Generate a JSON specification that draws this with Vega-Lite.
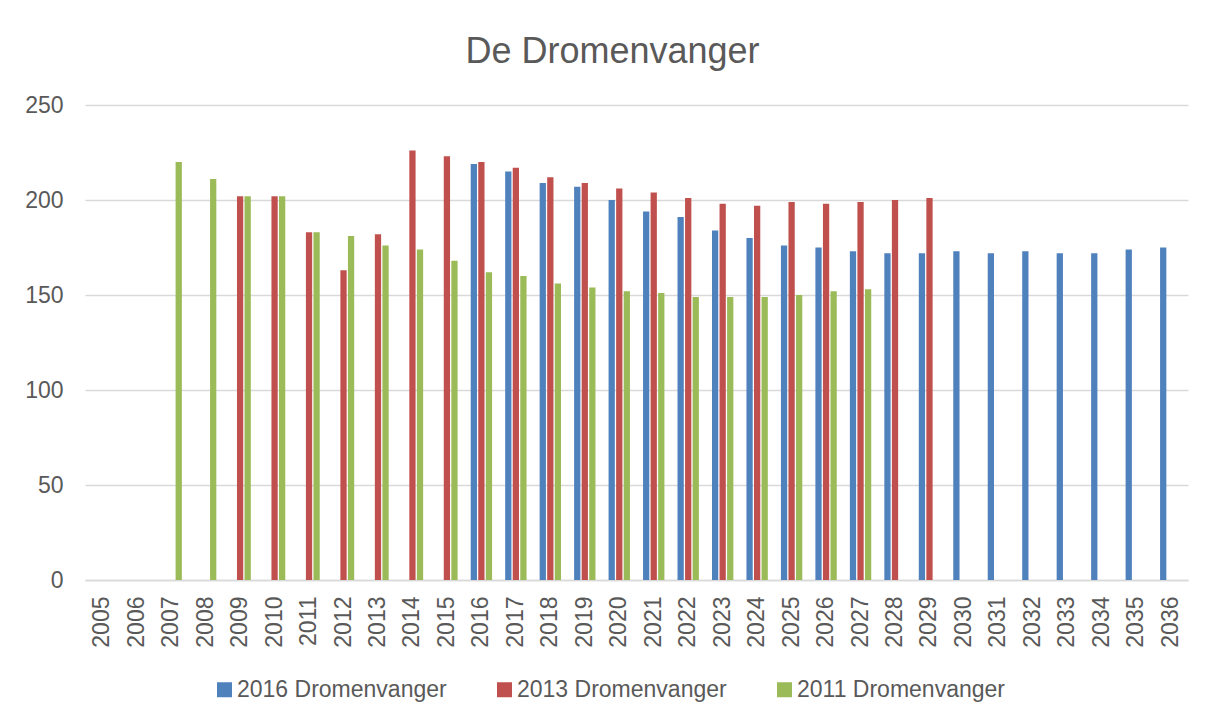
{
  "$schema": "https://vega.github.io/schema/vega-lite/v6.json",
  "width": 1103,
  "height": 475,
  "autosize": {"type": "none"},
  "padding": {"left": 85, "top": 105, "right": 25, "bottom": 137},
  "background": "white",
  "title": {
    "text": "De Dromenvanger",
    "anchor": "middle",
    "dx": -24,
    "offset": 23,
    "fontSize": 36,
    "fontWeight": "normal",
    "color": "#595959",
    "font": "Liberation Sans"
  },
  "config": {
    "font": "Liberation Sans",
    "view": {"stroke": null}
  },
  "data": {
    "values": [
      {"year": "2007", "series": "2011 Dromenvanger", "value": 220},
      {"year": "2008", "series": "2011 Dromenvanger", "value": 211},
      {"year": "2009", "series": "2011 Dromenvanger", "value": 202},
      {"year": "2010", "series": "2011 Dromenvanger", "value": 202},
      {"year": "2011", "series": "2011 Dromenvanger", "value": 183},
      {"year": "2012", "series": "2011 Dromenvanger", "value": 181},
      {"year": "2013", "series": "2011 Dromenvanger", "value": 176},
      {"year": "2014", "series": "2011 Dromenvanger", "value": 174},
      {"year": "2015", "series": "2011 Dromenvanger", "value": 168},
      {"year": "2016", "series": "2011 Dromenvanger", "value": 162},
      {"year": "2017", "series": "2011 Dromenvanger", "value": 160},
      {"year": "2018", "series": "2011 Dromenvanger", "value": 156},
      {"year": "2019", "series": "2011 Dromenvanger", "value": 154},
      {"year": "2020", "series": "2011 Dromenvanger", "value": 152},
      {"year": "2021", "series": "2011 Dromenvanger", "value": 151},
      {"year": "2022", "series": "2011 Dromenvanger", "value": 149},
      {"year": "2023", "series": "2011 Dromenvanger", "value": 149},
      {"year": "2024", "series": "2011 Dromenvanger", "value": 149},
      {"year": "2025", "series": "2011 Dromenvanger", "value": 150},
      {"year": "2026", "series": "2011 Dromenvanger", "value": 152},
      {"year": "2027", "series": "2011 Dromenvanger", "value": 153},
      {"year": "2009", "series": "2013 Dromenvanger", "value": 202},
      {"year": "2010", "series": "2013 Dromenvanger", "value": 202},
      {"year": "2011", "series": "2013 Dromenvanger", "value": 183},
      {"year": "2012", "series": "2013 Dromenvanger", "value": 163},
      {"year": "2013", "series": "2013 Dromenvanger", "value": 182},
      {"year": "2014", "series": "2013 Dromenvanger", "value": 226},
      {"year": "2015", "series": "2013 Dromenvanger", "value": 223},
      {"year": "2016", "series": "2013 Dromenvanger", "value": 220},
      {"year": "2017", "series": "2013 Dromenvanger", "value": 217},
      {"year": "2018", "series": "2013 Dromenvanger", "value": 212},
      {"year": "2019", "series": "2013 Dromenvanger", "value": 209},
      {"year": "2020", "series": "2013 Dromenvanger", "value": 206},
      {"year": "2021", "series": "2013 Dromenvanger", "value": 204},
      {"year": "2022", "series": "2013 Dromenvanger", "value": 201},
      {"year": "2023", "series": "2013 Dromenvanger", "value": 198},
      {"year": "2024", "series": "2013 Dromenvanger", "value": 197},
      {"year": "2025", "series": "2013 Dromenvanger", "value": 199},
      {"year": "2026", "series": "2013 Dromenvanger", "value": 198},
      {"year": "2027", "series": "2013 Dromenvanger", "value": 199},
      {"year": "2028", "series": "2013 Dromenvanger", "value": 200},
      {"year": "2029", "series": "2013 Dromenvanger", "value": 201},
      {"year": "2016", "series": "2016 Dromenvanger", "value": 219},
      {"year": "2017", "series": "2016 Dromenvanger", "value": 215},
      {"year": "2018", "series": "2016 Dromenvanger", "value": 209},
      {"year": "2019", "series": "2016 Dromenvanger", "value": 207},
      {"year": "2020", "series": "2016 Dromenvanger", "value": 200},
      {"year": "2021", "series": "2016 Dromenvanger", "value": 194},
      {"year": "2022", "series": "2016 Dromenvanger", "value": 191},
      {"year": "2023", "series": "2016 Dromenvanger", "value": 184},
      {"year": "2024", "series": "2016 Dromenvanger", "value": 180},
      {"year": "2025", "series": "2016 Dromenvanger", "value": 176},
      {"year": "2026", "series": "2016 Dromenvanger", "value": 175},
      {"year": "2027", "series": "2016 Dromenvanger", "value": 173},
      {"year": "2028", "series": "2016 Dromenvanger", "value": 172},
      {"year": "2029", "series": "2016 Dromenvanger", "value": 172},
      {"year": "2030", "series": "2016 Dromenvanger", "value": 173},
      {"year": "2031", "series": "2016 Dromenvanger", "value": 172},
      {"year": "2032", "series": "2016 Dromenvanger", "value": 173},
      {"year": "2033", "series": "2016 Dromenvanger", "value": 172},
      {"year": "2034", "series": "2016 Dromenvanger", "value": 172},
      {"year": "2035", "series": "2016 Dromenvanger", "value": 174},
      {"year": "2036", "series": "2016 Dromenvanger", "value": 175}
    ]
  },
  "mark": {"type": "bar"},
  "encoding": {
    "x": {
      "field": "year",
      "type": "nominal",
      "scale": {
        "domain": ["2005","2006","2007","2008","2009","2010","2011","2012","2013","2014","2015","2016","2017","2018","2019","2020","2021","2022","2023","2024","2025","2026","2027","2028","2029","2030","2031","2032","2033","2034","2035","2036"],
        "paddingInner": 0.38,
        "paddingOuter": 0.19
      },
      "axis": {
        "title": null,
        "labelAngle": -90,
        "labelAlign": "right",
        "labelBaseline": "middle",
        "labelFontSize": 23,
        "labelColor": "#595959",
        "labelPadding": 16,
        "ticks": false,
        "domainColor": "#d9d9d9",
        "domainWidth": 1.5,
        "grid": false
      }
    },
    "xOffset": {
      "field": "series",
      "type": "nominal",
      "scale": {
        "domain": ["2016 Dromenvanger", "2013 Dromenvanger", "2011 Dromenvanger"],
        "paddingInner": 0.17
      }
    },
    "y": {
      "field": "value",
      "type": "quantitative",
      "scale": {"domain": [0, 250], "nice": false},
      "axis": {
        "title": null,
        "values": [0, 50, 100, 150, 200, 250],
        "labelFontSize": 23,
        "labelColor": "#595959",
        "labelPadding": 22,
        "ticks": false,
        "domain": false,
        "gridColor": "#d9d9d9",
        "gridWidth": 1.5
      }
    },
    "color": {
      "field": "series",
      "type": "nominal",
      "scale": {
        "domain": ["2016 Dromenvanger", "2013 Dromenvanger", "2011 Dromenvanger"],
        "range": ["#4f81bd", "#c0504d", "#9bbb59"]
      },
      "legend": {
        "title": null,
        "orient": "none",
        "direction": "horizontal",
        "legendX": 128,
        "legendY": 573,
        "padding": 0,
        "symbolType": "square",
        "symbolSize": 225,
        "symbolStrokeWidth": 0,
        "labelFontSize": 23,
        "labelColor": "#595959",
        "labelOffset": 1,
        "labelLimit": 400,
        "columnPadding": 46
      }
    }
  }
}
